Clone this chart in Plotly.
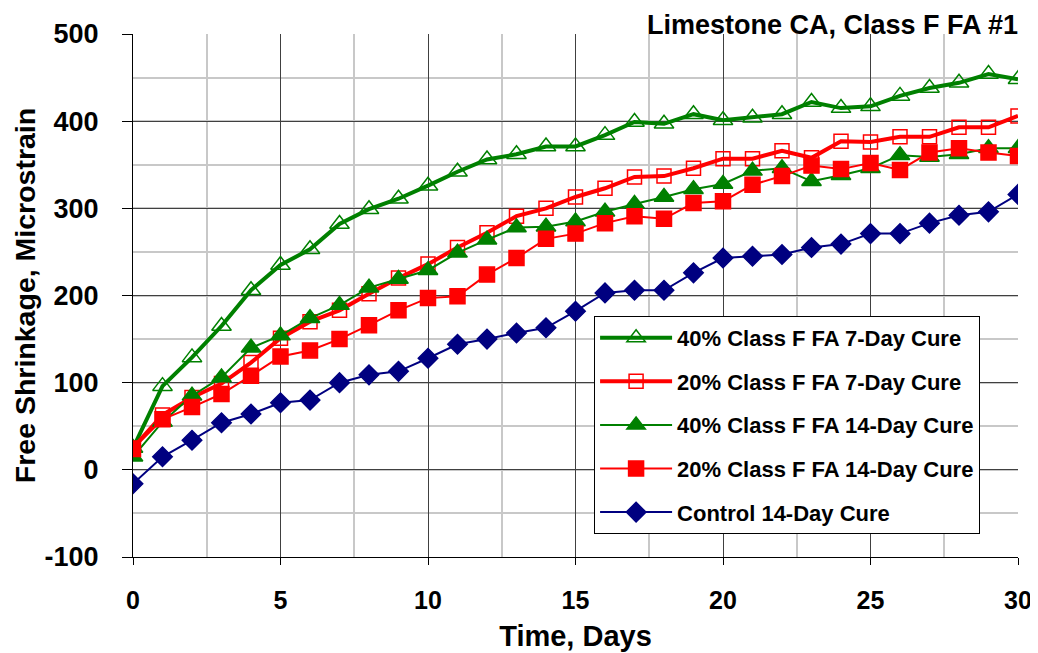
import plotly.graph_objects as go

days = list(range(31))

fa40_7day = [25, 96, 129, 165, 206, 235, 253, 282, 299, 311, 326, 342, 356, 362, 371, 371,
             384, 399, 397, 408, 401, 404, 408, 422, 415, 417, 429, 438, 444, 454, 448]
fa20_7day = [25, 63, 83, 99, 123, 151, 170, 183, 202, 220, 236, 255, 272, 291, 300, 313,
             323, 336, 337, 346, 357, 357, 366, 358, 377, 376, 382, 382, 393, 393, 406]
fa40_14day = [15, 55, 85, 106, 140, 154, 174, 189, 209, 219, 229, 249, 264, 278, 279, 285,
              296, 305, 313, 322, 328, 343, 346, 331, 338, 346, 361, 359, 362, 369, 369]
fa20_14day = [24, 58, 72, 87, 108, 130, 137, 150, 166, 183, 197, 199, 224, 243, 265, 271,
              283, 291, 288, 306, 308, 327, 337, 349, 345, 352, 344, 364, 369, 364, 360]
control_14day = [-16, 15, 34, 54, 64, 77, 80, 100, 109, 113, 128, 144, 150, 157, 163, 182,
                 203, 206, 206, 226, 243, 245, 247, 255, 259, 271, 271, 283, 292, 296, 316]

y_ticks = [-100, 0, 100, 200, 300, 400, 500]
y_labels = ["-100", "0", "100", "200", "300", "400", "500"]

GREEN = "#008000"
RED = "#FF0000"
NAVY = "#000080"

series = [
    ("40% Class F FA 7-Day Cure", fa40_7day, GREEN, 4, "triangle-up-open", 17),
    ("20% Class F FA 7-Day Cure", fa20_7day, RED, 4, "square-open", 14),
    ("40% Class F FA 14-Day Cure", fa40_14day, GREEN, 2, "triangle-up", 17),
    ("20% Class F FA 14-Day Cure", fa20_14day, RED, 2, "square", 15),
    ("Control 14-Day Cure", control_14day, NAVY, 2, "diamond", 15),
]

fig = go.Figure()
for i, (name, vals, color, lw, sym, size) in enumerate(series):
    fig.add_trace(go.Scatter(
        x=days, y=vals, name=name, mode="lines+markers",
        legendgroup=f"g{i}",
        line=dict(color=color, width=lw),
        marker=dict(symbol=sym, size=size, color=color,
                    line=dict(color=color, width=1.5)),
    ))

bold = dict(family="Liberation Sans, Arial, sans-serif", color="black", weight="bold")

# page body has an 8px margin, so the figure is drawn 8px smaller
fig.update_layout(
    width=1030, height=645,
    margin=dict(l=125, r=20, t=26, b=96),
    paper_bgcolor="white", plot_bgcolor="white",
    showlegend=True,
    legend=dict(
        x=0.521, y=0.461, xanchor="left", yanchor="top",
        bgcolor="white", bordercolor="black", borderwidth=1,
        font=dict(size=22, **bold), tracegroupgap=12,
        itemwidth=72,
    ),
    xaxis=dict(
        range=[0, 30], tickmode="linear", tick0=0, dtick=5,
        showgrid=True, gridcolor="#404040", gridwidth=1,
        minor=dict(dtick=2.5, showgrid=True, gridcolor="#c8c8c8", gridwidth=2),
        showline=True, linecolor="black", linewidth=1,
        ticks="outside", ticklen=7, tickcolor="black",
        tickfont=dict(size=25, **bold), ticklabelstandoff=14,
        title=dict(text="Time, Days", font=dict(size=29, **bold), standoff=12),
        zeroline=False, automargin=False,
    ),
    yaxis=dict(
        range=[-100, 500], tickmode="array", tickvals=y_ticks, ticktext=y_labels,
        showgrid=True, gridcolor="#404040", gridwidth=1,
        minor=dict(tickmode="linear", tick0=-100, dtick=50, showgrid=True,
                   gridcolor="#c8c8c8", gridwidth=2),
        showline=True, linecolor="black", linewidth=1,
        ticks="outside", ticklen=10, tickcolor="black",
        tickfont=dict(size=27, **bold), ticklabelstandoff=18,
        title=dict(text="Free Shrinkage, Microstrain", font=dict(size=28.5, **bold), standoff=0),
        zeroline=False, automargin=False,
    ),
    annotations=[dict(
        text="Limestone CA, Class F FA #1", x=1.002, y=1 + 26 / 523,
        xref="paper", yref="paper", xanchor="right", yanchor="top",
        showarrow=False, font=dict(size=27, **bold),
    )],
)

fig.write_html("out.html")
